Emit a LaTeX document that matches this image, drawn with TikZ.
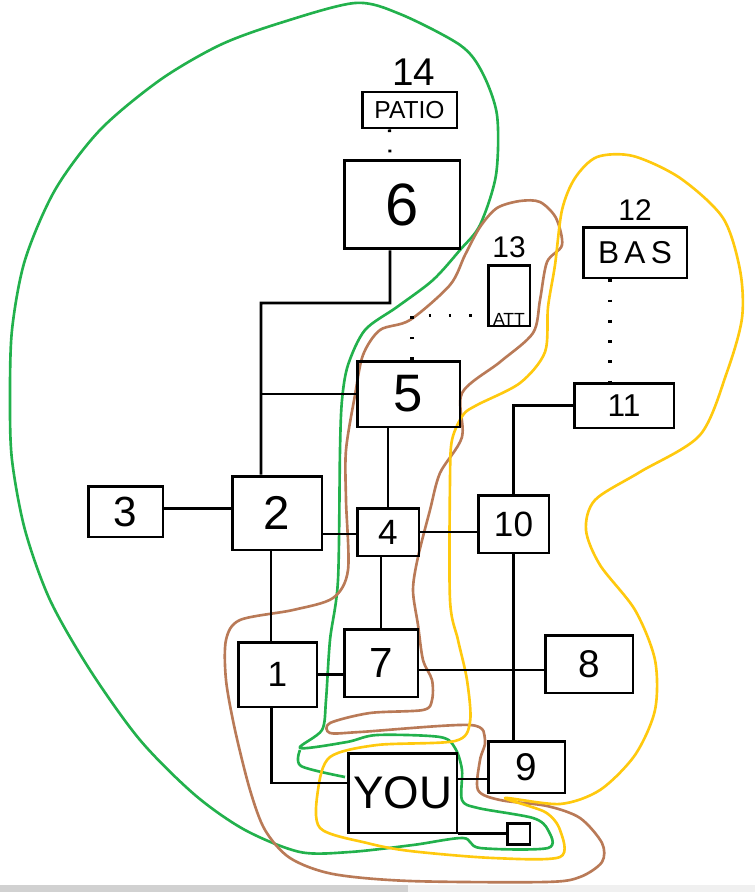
\documentclass[tikz,border=0pt]{standalone}
\usepackage{fontspec}
\setmainfont{Liberation Sans}
\usepackage{tikz}
\usetikzlibrary{positioning, calc}
\newcommand{\fsz}[1]{\fontsize{#1}{#1}\selectfont}
\definecolor{zgreen}{HTML}{22B14C}
\definecolor{zbrown}{HTML}{B97A57}
\definecolor{zyellow}{HTML}{FFC90E}
\tikzset{
	room/.style={draw, line width=1.7pt, inner sep=0pt},
	wire/.style={line width=1.5pt},
	dots/.style={line width=1.8pt, dash pattern=on 1.5pt off 10pt},
	zone/.style={line width=1.5pt, line join=round},
	tag/.style={inner sep=0pt, label distance=0.1cm},
}

\begin{document}
\begin{tikzpicture}[x=0.02cm, y=-0.02cm]
					\useasboundingbox (0, 0) rectangle (755, 892);
					\fill[black!18] (0, 885) rectangle (408, 892);
					\fill[black!6] (408, 885) rectangle (755, 892);

					\draw[zone, zgreen] plot[smooth cycle, tension=0.5] coordinates {(355,3) (400,14) (460,45) (482,72) (497,115) (496,175) (480,225) (460,250) (433,280) (397,307) (365,330) (348,365) (342,400) (340,450) (338,580) (330,640) (326,700) (322,730) (300,748) (347,742) (377,735) (440,737) (455,748) (462,770) (462,800) (478,808) (533,818) (548,830) (548,848) (480,848) (463,838) (413,845) (350,852) (300,852) (245,830) (195,795) (140,740) (90,670) (50,600) (25,530) (12,460) (10,400) (12,330) (25,260) (55,190) (100,130) (160,80) (220,45) (280,23)};
					\draw[zone, zgreen] plot[smooth, tension=0.5] coordinates {(300,750) (301,766) (345,777)};
					\draw[zone, zbrown] plot[smooth cycle, tension=0.5] coordinates {(480,227) (497,208) (520,201) (540,202) (556,218) (562,245) (547,262) (540,300) (533,333) (500,362) (462,393) (462,437) (440,473) (430,510) (418,557) (413,590) (418,625) (423,660) (432,680) (432,700) (423,710) (370,713) (330,723) (330,733) (360,732) (470,725) (485,740) (480,760) (478,790) (500,800) (547,806) (580,818) (602,843) (602,862) (580,877) (545,882) (410,881) (333,874) (290,858) (265,830) (250,790) (235,730) (226,680) (226,640) (240,620) (293,610) (333,598) (348,570) (346,500) (346,450) (355,395) (363,355) (380,330) (410,320) (450,285) (465,255)};
					\draw[zone, zyellow] plot[smooth cycle, tension=0.5] coordinates {(470,722) (467,680) (458,640) (450,600) (450,480) (452,440) (463,415) (477,405) (520,383) (545,352) (548,307) (555,265) (562,210) (575,178) (597,157) (633,156) (680,178) (723,218) (740,270) (742,318) (727,372) (700,435) (640,472) (595,500) (586,530) (600,565) (635,610) (655,660) (655,710) (635,755) (600,790) (560,804) (505,798) (545,812) (560,830) (560,857) (493,858) (410,851) (367,843) (320,828) (318,790) (330,757) (377,745) (455,741)};

					\node[room, minimum width=1.9cm, minimum height=0.72cm, font=\fsz{14}, label={[tag, font=\fsz{22}, xshift=0.08cm]above:14}] at (409.5, 110) (r14) {PATIO};
					\node[room, minimum width=2.32cm, minimum height=1.78cm, font=\fsz{34}] at (402, 204.5) (r6) {6};
					\node[room, minimum width=0.84cm, minimum height=1.22cm, label={[tag, font=\fsz{17}]above:13}, label={[inner sep=1pt, font=\fsz{10}, anchor=south]south:ATT}] at (509, 295.5) (r13) {};
					\node[room, minimum width=2.08cm, minimum height=1.02cm, font=\fsz{18}, label={[tag, font=\fsz{17}]above:12}] at (635, 252.5) (r12) {B\,A\,S};
					\node[room, minimum width=2.06cm, minimum height=1.32cm, font=\fsz{30}] at (408.5, 394) (r5) {5};
					\node[room, minimum width=2cm, minimum height=0.9cm, font=\fsz{18}] at (624, 405.5) (r11) {11};
					\node[room, minimum width=1.5cm, minimum height=1.02cm, font=\fsz{24}] at (125.5, 511.5) (r3) {3};
					\node[room, minimum width=1.8cm, minimum height=1.48cm, font=\fsz{27}] at (277, 513) (r2) {2};
					\node[room, minimum width=1.24cm, minimum height=0.96cm, font=\fsz{20}] at (388, 532) (r4) {4};
					\node[room, minimum width=1.42cm, minimum height=1.16cm, font=\fsz{20}] at (513.5, 524) (r10) {10};
					\node[room, minimum width=1.58cm, minimum height=1.3cm, font=\fsz{20}] at (277.5, 674.5) (r1) {1};
					\node[room, minimum width=1.48cm, minimum height=1.36cm, font=\fsz{24}] at (381, 663) (r7) {7};
					\node[room, minimum width=1.76cm, minimum height=1.16cm, font=\fsz{22}] at (589, 664) (r8) {8};
					\node[room, minimum width=1.54cm, minimum height=1.04cm, font=\fsz{22}] at (526.5, 767) (r9) {9};
					\node[room, minimum width=2.18cm, minimum height=1.6cm, font=\fsz{26}] at (402.5, 793) (you) {YOU};
					\node[room, minimum width=0.46cm, minimum height=0.42cm] at (518.5, 833.5) (sq) {};

					\coordinate (hall) at (261, 303);

					\draw[dots] ([xshift=-0.4cm]r14.south) -- ([xshift=-0.24cm]r6.north);
					\draw[dots] ([xshift=0.07cm]r5.north) |- ([yshift=-0.4cm]r13.west);
					\draw[dots] ([xshift=-0.5cm]r12.south) -- ([xshift=-0.5cm]r12.south |- r11.north);

					\draw[wire] ([xshift=-0.24cm]r6.south) |- (hall) -- ([xshift=-0.32cm]r2.north);
					\draw[wire] (hall |- r5.west) -- (r5.west);
					\draw[wire] ([yshift=0.06cm]r3.east) -- ([yshift=0.06cm]r3.east -| r2.west);
					\draw[wire] ([yshift=-0.42cm]r2.east) -- ([yshift=-0.42cm]r2.east -| r4.west);
					\draw[wire] (r4.east) -- (r4.east -| r10.west);
					\draw[wire] (r4.north) -- (r4.north |- r5.south);
					\draw[wire] (r7.north) -- (r7.north |- r4.south);
					\draw[wire] (r11.west) -| (r10.north);
					\draw[wire] ([xshift=-0.12cm]r2.south) -- ([xshift=-0.12cm]r2.south |- r1.north);
					\draw[wire] (r1.east) -- (r1.east -| r7.west);
					\draw[wire] ([yshift=-0.14cm]r7.east) -- ([yshift=-0.14cm]r7.east -| r8.west);
					\draw[wire] (r10.south) -- (r10.south |- r9.north);
					\draw[wire] ([xshift=-0.12cm]r1.south) |- ([yshift=0.2cm]you.west);
					\draw[wire] ([yshift=0.28cm]you.east) -- ([yshift=0.28cm]you.east -| r9.west);
					\draw[wire] (sq.west) -- (sq.west -| you.east);
				\end{tikzpicture}
\end{document}
